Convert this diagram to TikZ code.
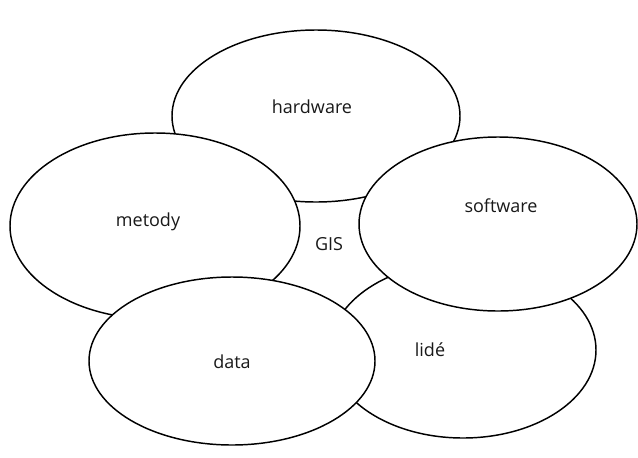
\documentclass[tikz,border=0pt]{standalone}
\usepackage{fontspec}
\setmainfont{Open Sans}
\usetikzlibrary{shapes.geometric}

\begin{document}
\begin{tikzpicture}[
  x=0.75pt,
  y=-0.75pt,
  every node/.style={font=\fontsize{13.5}{15}\selectfont},
  blob/.style 2 args={
    ellipse,
    draw,
    line width=1.1pt,
    fill=white,
    inner sep=0pt,
    minimum width=0.75*#1,
    minimum height=0.75*#2
  },
  tag/.style={inner sep=1pt, text=black!90}
]
\useasboundingbox (0,0) rectangle (638,457);

% ellipses, back to front
\node[blob={288}{172}] (hw) at (316,116) {};
\node[blob={266}{176}] (lide) at (463,350) {};
\node[blob={290}{186}] (met) at (155,226) {};
\node[blob={278}{174}] (sw) at (498,224) {};
\node[blob={286}{168}] (dat) at (232,361) {};

% labels
\node[tag] (hwtxt) at (312,107) {hardware};
\node[tag] (swtxt) at (501,206) {software};
\node[tag] (mettxt) at (148,222) {metody};
\node[tag] (dattxt) at (232,362) {data};
\node[tag] (lidetxt) at (430,350) {lidé};
\node[tag] (gis) at (329,244) {GIS};
\end{tikzpicture}
\end{document}
